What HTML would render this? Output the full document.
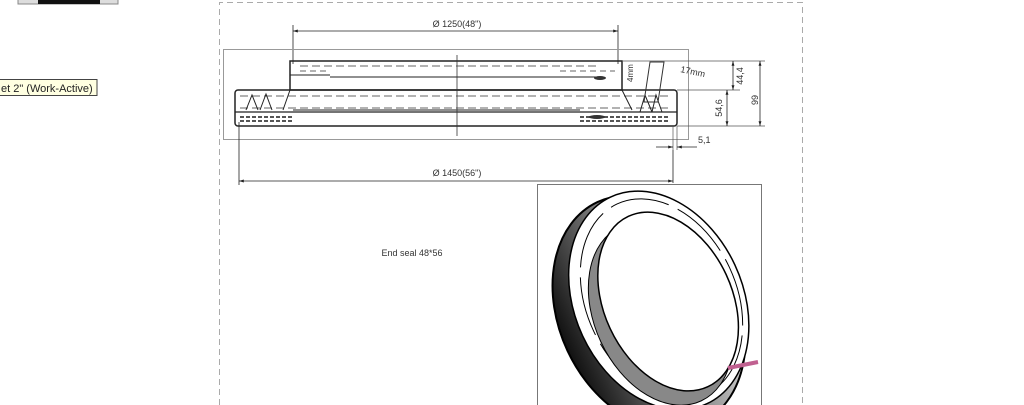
<!DOCTYPE html>
<html><head><meta charset="utf-8"><style>
html,body{margin:0;padding:0;background:#fff;width:1024px;height:405px;overflow:hidden}
svg{display:block}
text{font-family:"Liberation Sans",sans-serif}
</style></head><body>
<svg width="1024" height="405" viewBox="0 0 1024 405" xmlns="http://www.w3.org/2000/svg">
<defs>
<marker id="a" viewBox="0 0 10 10" refX="10" refY="5" markerWidth="6" markerHeight="6" orient="auto-start-reverse"><path d="M0,2 L10,5 L0,8 z" fill="#222"/></marker>
<linearGradient id="g" x1="0" y1="0" x2="1" y2="0"><stop offset="0" stop-color="#111"/><stop offset="0.45" stop-color="#777"/><stop offset="1" stop-color="#eee"/></linearGradient>
<clipPath id="c"><rect x="538" y="185" width="223" height="220"/></clipPath>
</defs>
<rect x="18" y="-2" width="100" height="6" fill="#ddd" stroke="#888"/>
<rect x="38" y="-2" width="62" height="6" fill="#111"/>
<rect x="-2" y="79.5" width="99" height="16" fill="#ffffe1" stroke="#444"/>
<text x="1" y="92" font-size="11" fill="#222">et 2" (Work-Active)</text>
<path d="M219.5,405 V2.5 H802.5 V405" fill="none" stroke="#aaa" stroke-dasharray="6,4"/>
<line x1="293" y1="25" x2="293" y2="64" stroke="#222" stroke-width="0.8"/>
<line x1="618" y1="25" x2="618" y2="64" stroke="#222" stroke-width="0.8"/>
<line x1="293" y1="31" x2="618" y2="31" stroke="#222" stroke-width="0.8" marker-start="url(#a)" marker-end="url(#a)"/>
<text x="457" y="27" font-size="9" text-anchor="middle" fill="#333">Ø 1250(48")</text>
<rect x="223.5" y="49.5" width="465" height="90" fill="none" stroke="#999"/>
<rect x="290" y="61" width="332" height="29" fill="none" stroke="#222" stroke-width="1.5"/>
<line x1="290" y1="75" x2="330" y2="75" stroke="#222"/>
<line x1="330" y1="77" x2="600" y2="77" stroke="#222"/>
<line x1="300" y1="66" x2="600" y2="66" stroke="#666" stroke-dasharray="8,4"/>
<line x1="300" y1="71" x2="330" y2="71" stroke="#666" stroke-dasharray="6,4"/>
<line x1="560" y1="71" x2="615" y2="71" stroke="#666" stroke-dasharray="6,4"/>
<rect x="235" y="90" width="442" height="36" rx="3" fill="none" stroke="#222" stroke-width="1.5"/>
<line x1="235" y1="112" x2="677" y2="112" stroke="#222" stroke-width="1.3"/>
<line x1="293" y1="110" x2="580" y2="110" stroke="#222"/>
<line x1="240" y1="96" x2="670" y2="96" stroke="#666" stroke-dasharray="8,4"/>
<line x1="240" y1="108" x2="670" y2="108" stroke="#666" stroke-dasharray="8,4"/>
<line x1="240" y1="117" x2="293" y2="117" stroke="#555" stroke-dasharray="4,2" stroke-width="2"/>
<line x1="580" y1="117" x2="670" y2="117" stroke="#555" stroke-dasharray="4,2" stroke-width="2"/>
<line x1="240" y1="121" x2="293" y2="121" stroke="#555" stroke-dasharray="4,2" stroke-width="2"/>
<line x1="580" y1="121" x2="670" y2="121" stroke="#555" stroke-dasharray="4,2" stroke-width="2"/>
<path d="M290,90 L283,110 M246,110 L252,95 L258,110 M260,110 L266,94 L272,110" fill="none" stroke="#222"/>
<path d="M622,90 L632,110 M640,112 L645,95 L652,112 M652,112 L656,95 L662,112" fill="none" stroke="#222"/>
<path d="M650,62 h14 l-6,40 h-14 z" fill="none" stroke="#333"/>
<ellipse cx="600" cy="78" rx="6" ry="2" fill="#333"/><ellipse cx="597" cy="117" rx="8" ry="2" fill="#333"/>
<line x1="457" y1="55" x2="457" y2="136" stroke="#333" stroke-width="0.8"/>
<line x1="622" y1="61" x2="765" y2="61" stroke="#555" stroke-width="0.7"/>
<line x1="677" y1="90" x2="740" y2="90" stroke="#555" stroke-width="0.7"/>
<line x1="677" y1="126" x2="765" y2="126" stroke="#555" stroke-width="0.7"/>
<line x1="733" y1="61" x2="733" y2="90" stroke="#222" stroke-width="0.8" marker-start="url(#a)" marker-end="url(#a)"/>
<line x1="727" y1="90" x2="727" y2="126" stroke="#222" stroke-width="0.8" marker-start="url(#a)" marker-end="url(#a)"/>
<line x1="760" y1="61" x2="760" y2="126" stroke="#222" stroke-width="0.8" marker-start="url(#a)" marker-end="url(#a)"/>
<text transform="translate(743,76) rotate(-90)" font-size="9" text-anchor="middle" fill="#333">44,4</text>
<text transform="translate(722,108) rotate(-90)" font-size="9" text-anchor="middle" fill="#333">54,6</text>
<text transform="translate(758,100) rotate(-90)" font-size="9" text-anchor="middle" fill="#333">99</text>
<text transform="translate(680,72) rotate(12)" font-size="9" fill="#333">17mm</text>
<text transform="translate(633,82) rotate(-90)" font-size="8" fill="#333">4mm</text>
<line x1="673" y1="126" x2="673" y2="150" stroke="#555" stroke-width="0.7"/>
<line x1="677" y1="126" x2="677" y2="150" stroke="#555" stroke-width="0.7"/>
<line x1="656" y1="147" x2="673" y2="147" stroke="#222" stroke-width="0.8" marker-end="url(#a)"/>
<line x1="697" y1="147" x2="677" y2="147" stroke="#222" stroke-width="0.8" marker-end="url(#a)"/>
<text x="698" y="143" font-size="9" fill="#333">5,1</text>
<line x1="239" y1="122" x2="239" y2="185" stroke="#222" stroke-width="0.8"/>
<line x1="673" y1="150" x2="673" y2="183" stroke="#222" stroke-width="0.8"/>
<line x1="239" y1="181" x2="673" y2="181" stroke="#222" stroke-width="0.8" marker-start="url(#a)" marker-end="url(#a)"/>
<text x="457" y="176" font-size="9" text-anchor="middle" fill="#333">Ø 1450(56")</text>
<text x="412" y="256" font-size="9" text-anchor="middle" fill="#333">End seal 48*56</text>
<rect x="537.5" y="184.5" width="224" height="222" fill="#fff" stroke="#777"/>
<g clip-path="url(#c)">
<g transform="rotate(-25 650 310)">
<ellipse cx="648" cy="312" rx="90" ry="122" fill="url(#g)" stroke="#000" stroke-width="2"/>
<ellipse cx="662" cy="305" rx="84" ry="114" fill="#fff" stroke="#000" stroke-width="1.5"/>
<ellipse cx="665" cy="305" rx="75" ry="105" fill="none" stroke="#000" stroke-width="1" stroke-dasharray="60,10"/>
<ellipse cx="658" cy="318" rx="66" ry="96" fill="#888" stroke="#000" stroke-width="1"/>
<ellipse cx="670" cy="310" rx="64" ry="94" fill="#fff" stroke="#000" stroke-width="1.5"/>
</g>
</g>
<path d="M728,368 l30,-6" stroke="#c06090" stroke-width="4"/>
</svg>
</body></html>
